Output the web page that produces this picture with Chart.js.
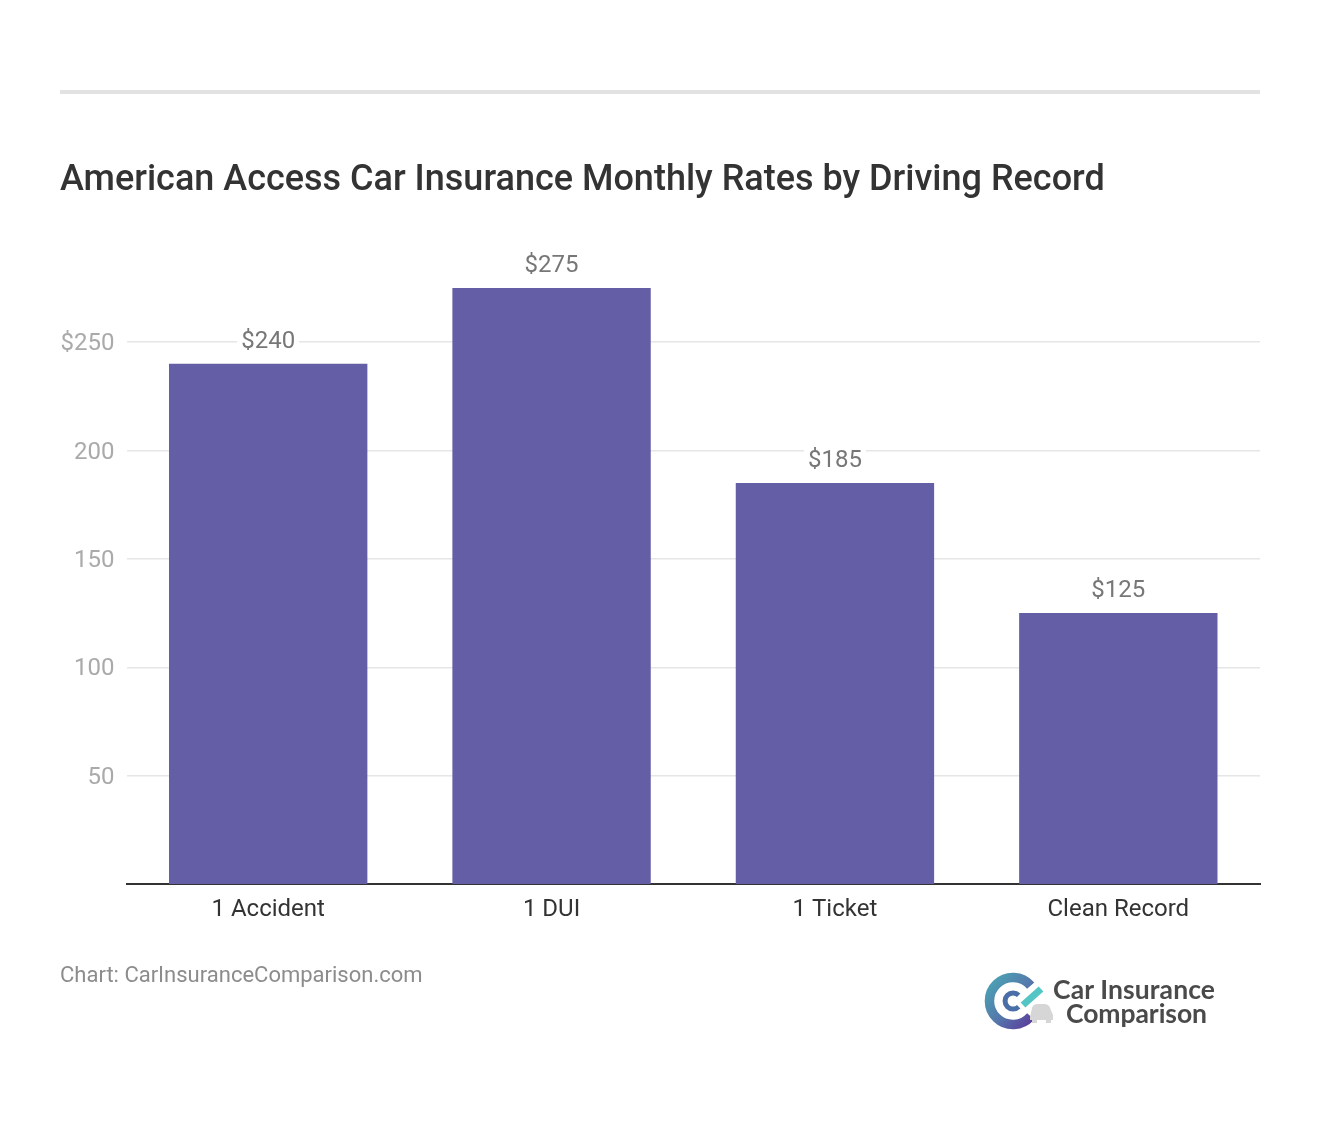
<!DOCTYPE html>
<html>
<head>
<meta charset="utf-8">
<title>American Access Car Insurance Monthly Rates by Driving Record</title>
<script src="https://cdn.jsdelivr.net/npm/chart.js@4"></script>
<style>
html,body{margin:0;padding:0;background:#fff;}
#page{position:relative;width:1320px;height:1142px;overflow:hidden;font-family:Roboto,sans-serif;}
#rule{position:absolute;left:60px;top:90px;width:1200px;height:4px;background:#e2e2e2;}
#title{position:absolute;left:60px;top:156px;font-size:36px;font-weight:500;line-height:44px;color:#333;white-space:nowrap;}
#source{position:absolute;left:60px;top:961px;font-size:22px;line-height:28px;color:#8c8c8c;white-space:nowrap;}
#logo{position:absolute;left:980px;top:968px;}
</style>
</head>
<body>
<div id="page">
    <canvas id="ratesChart" width="1320" height="1142" style="position:absolute;left:0;top:0;width:1320px;height:1142px"></canvas>
    <div id="rule"></div>
    <div id="title">American Access Car Insurance Monthly Rates by Driving Record</div>
    <div id="source">Chart: CarInsuranceComparison.com</div>
    <svg id="logo" width="250" height="70" viewBox="0 0 250 70">
        <defs>
            <linearGradient id="ring" x1="0" y1="0" x2="1" y2="1">
                <stop offset="0" stop-color="#4aa5b5"/>
                <stop offset="0.55" stop-color="#5577ab"/>
                <stop offset="1" stop-color="#5b3f9c"/>
            </linearGradient>
        </defs>
        <path d="M50.7 17.6 A23.5 23.5 0 1 0 50.7 48.4" fill="none" stroke="url(#ring)" stroke-width="9.5"/>
        <path d="M38.7 27.3 A8 8 0 1 0 38.7 38.7" fill="none" stroke="#4a6fa8" stroke-width="5"/>
        <path d="M50 49 L52 40 Q53 36 58 36 L64 36 Q69 36 70 40 L73 47 L73 52 L50 52 Z" fill="#d6d6d6"/>
        <rect x="52" y="51" width="5" height="4" fill="#d6d6d6"/>
        <rect x="66" y="51" width="5" height="4" fill="#d6d6d6"/>
        <path d="M43 37 L61 21" stroke="#53c5c4" stroke-width="7"/>
        <text x="73" y="31" font-family="Lato,sans-serif" font-weight="700" font-size="26.5" fill="#4a4a4a" textLength="162">Car Insurance</text>
        <text x="86" y="55" font-family="Lato,sans-serif" font-weight="700" font-size="26.5" fill="#4a4a4a" textLength="141">Comparison</text>
    </svg>
</div>
<script>
const categories=['1 Accident','1 DUI','1 Ticket','Clean Record'];
const rates=[240,275,185,125];
const rateLabels=['$240','$275','$185','$125'];
const tickValues=[50,100,150,200,250];

// labels above the bars, white box cuts the gridline behind them
const barLabels={
    id:'barLabels',
    afterDatasetsDraw(chart){
        const c=chart.ctx;
        const bars=chart.getDatasetMeta(0).data;
        c.save();
        c.font='24px Roboto';
        c.textAlign='center';
        c.textBaseline='middle';
        bars.forEach((bar,i)=>{
            const w=c.measureText(rateLabels[i]).width;
            const y=bar.y-22;
            c.fillStyle='#fff';
            c.fillRect(bar.x-w/2-4,y-14,w+8,28);
            c.fillStyle='#777';
            c.fillText(rateLabels[i],bar.x,y);
        });
        c.restore();
    }
};

new Chart(document.getElementById('ratesChart').getContext('2d'),{
    type:'bar',
    data:{
        labels:categories,
        datasets:[{
            data:rates,
            backgroundColor:'#645ea6',
            borderWidth:0,
            barPercentage:0.7,
            categoryPercentage:1
        }]
    },
    options:{
        responsive:false,
        animation:false,
        layout:{padding:{left:60,right:60,top:288,bottom:218}},
        scales:{
            x:{
                afterFit(scale){scale.height=40;},
                grid:{display:false,drawTicks:false},
                border:{color:'#333',width:2},
                ticks:{color:'#333',font:{family:'Roboto',size:24},padding:12,maxRotation:0}
            },
            y:{
                min:0,
                max:275,
                afterFit(scale){scale.width=66.5;},
                afterBuildTicks(scale){scale.ticks=tickValues.map(v=>({value:v}));},
                grid:{color:'#e6e6e6',lineWidth:1.5,drawTicks:false},
                border:{display:false},
                ticks:{
                    color:'#aaa',
                    font:{family:'Roboto',size:24,lineHeight:'4px'},
                    padding:12,
                    // empty first line pushes the text 2px down, same as the reference
                    callback:function(value){return ['',value==250?'$'+value:String(value)];}
                }
            }
        },
        plugins:{legend:{display:false},title:{display:false},tooltip:{enabled:false}}
    },
    plugins:[barLabels]
});
</script>
</body>
</html>
